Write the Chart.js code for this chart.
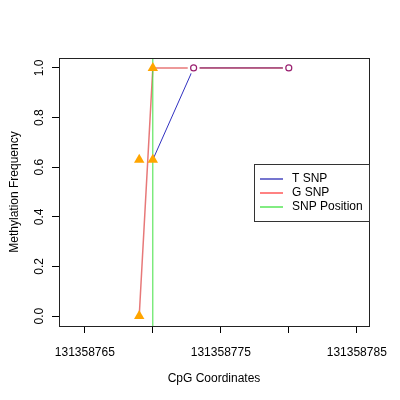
<!DOCTYPE html>
<html>
<head>
<meta charset="utf-8">
<script src="https://cdn.jsdelivr.net/npm/chart.js@4.4.0/dist/chart.umd.min.js"></script>
<style>
  html, body { margin: 0; padding: 0; background: #fff; }
</style>
</head>
<body>
<canvas id="chart" width="400" height="400"></canvas>
<script>
// values
const xTicks = [131358765, 131358770, 131358775, 131358780, 131358785];
const xTickLabels = [131358765, 131358775, 131358785];
const yTicks = [0, 0.2, 0.4, 0.6, 0.8, 1.0];
const snpPosition = 131358770;
const tSnpX = [131358770, 131358773, 131358780];
const tSnpY = [0.63, 1.0, 1.0];
const gSnpX = [131358769, 131358770, 131358773, 131358780];
const gSnpY = [0.0, 1.0, 1.0, 1.0];
const snpPointX = [131358769, 131358769, 131358770, 131358770];
const snpPointY = [0.0, 0.63, 0.63, 1.0];
const cpgPointX = [131358773, 131358780];
const cpgPointY = [1.0, 1.0];
const legendLabels = ['T SNP', 'G SNP', 'SNP Position'];

const xMin = 131358763.1, xMax = 131358785.9;
const yMin = -0.04, yMax = 1.04;

const FONT = 'Liberation Sans, Arial, Helvetica, sans-serif';
Chart.defaults.font.family = FONT;
Chart.defaults.font.size = 12;
Chart.defaults.color = '#000';

const toPts = (xs, ys) => xs.map((x, i) => ({ x: x, y: ys[i] }));
const legendColors = ['#1a1ab0', '#ff3030', '#30e030'];

// box round the plot and the legend, R style
const boxPlugin = {
    id: 'box',
    afterDatasetsDraw(chart) {
        const { ctx, chartArea: a } = chart;
        ctx.save();
        ctx.strokeStyle = '#222';
        ctx.lineWidth = 1;
        ctx.strokeRect(Math.round(a.left) + 0.5, Math.round(a.top) + 0.5,
            Math.round(a.right - a.left), Math.round(a.bottom - a.top));

        const lx = 254, ly = 164, lw = 115, lh = 57;
        ctx.fillStyle = '#fff';
        ctx.fillRect(lx, ly, lw, lh);
        ctx.strokeStyle = '#333';
        ctx.strokeRect(lx + 0.5, ly + 0.5, lw, lh);
        ctx.font = '12px ' + FONT;
        ctx.textBaseline = 'middle';
        legendLabels.forEach((label, i) => {
            const y = ly + 15 + i * 14;
            ctx.strokeStyle = legendColors[i];
            ctx.lineWidth = 1.2;
            ctx.beginPath();
            ctx.moveTo(lx + 6, y);
            ctx.lineTo(lx + 29, y);
            ctx.stroke();
            ctx.fillStyle = '#000';
            ctx.fillText(label, lx + 38, y);
        });
        ctx.restore();
    }
};

new Chart(document.getElementById('chart'), {
    type: 'scatter',
    data: {
        datasets: [
            {
                label: 'SNP',
                data: toPts(snpPointX, snpPointY),
                pointStyle: 'triangle',
                pointRadius: 6,
                backgroundColor: '#ffa500',
                borderColor: '#ffa500',
                borderWidth: 0,
                showLine: false,
                order: 0
            },
            {
                label: 'CpG',
                data: toPts(cpgPointX, cpgPointY),
                pointStyle: 'circle',
                pointRadius: 3,
                backgroundColor: '#fff',
                borderColor: '#9a2070',
                borderWidth: 1.2,
                showLine: false,
                order: 1
            },
            {
                label: 'gap',
                data: toPts(cpgPointX, cpgPointY),
                pointStyle: 'circle',
                pointRadius: 6,
                backgroundColor: '#fff',
                borderWidth: 0,
                showLine: false,
                order: 2
            },
            {
                label: legendLabels[2],
                data: toPts([snpPosition, snpPosition], [yMin, yMax]),
                showLine: true,
                borderColor: '#40e040',
                borderWidth: 1,
                pointRadius: 0,
                order: 3
            },
            {
                label: legendLabels[1],
                data: toPts(gSnpX, gSnpY),
                showLine: true,
                borderColor: 'rgba(215, 30, 30, 0.6)',
                borderWidth: 1.5,
                pointRadius: 0,
                order: 4
            },
            {
                label: legendLabels[0],
                data: toPts(tSnpX, tSnpY),
                showLine: true,
                borderColor: '#3030c0',
                borderWidth: 1,
                pointRadius: 0,
                order: 5
            }
        ]
    },
    options: {
        responsive: false,
        animation: false,
        devicePixelRatio: 1,
        layout: { padding: { top: 58, right: 30, left: 0, bottom: 0 } },
        plugins: {
            legend: { display: false },
            tooltip: { enabled: false }
        },
        scales: {
            x: {
                type: 'linear',
                min: xMin,
                max: xMax,
                afterBuildTicks: s => { s.ticks = xTicks.map(v => ({ value: v })); },
                afterFit: s => { s.height = 74; },
                grid: { drawOnChartArea: false, drawTicks: true, tickLength: 7, color: '#000' },
                border: { display: false },
                ticks: {
                    autoSkip: false,
                    maxRotation: 0,
                    padding: 12,
                    callback: v => xTickLabels.includes(v) ? String(v) : ''
                },
                title: {
                    display: true,
                    text: 'CpG Coordinates',
                    padding: { top: 0, bottom: 14 }
                }
            },
            y: {
                type: 'linear',
                min: yMin,
                max: yMax,
                afterBuildTicks: s => { s.ticks = yTicks.map(v => ({ value: v })); },
                afterFit: s => { s.width = 59; },
                grid: { drawOnChartArea: false, drawTicks: true, tickLength: 7, color: '#000' },
                border: { display: false },
                ticks: {
                    minRotation: 90,
                    maxRotation: 90,
                    crossAlign: 'center',
                    padding: 4,
                    callback: v => v.toFixed(1)
                },
                title: {
                    display: true,
                    text: 'Methylation Frequency',
                    padding: { top: 7, bottom: 0 }
                }
            }
        }
    },
    plugins: [boxPlugin]
});
</script>
</body>
</html>
